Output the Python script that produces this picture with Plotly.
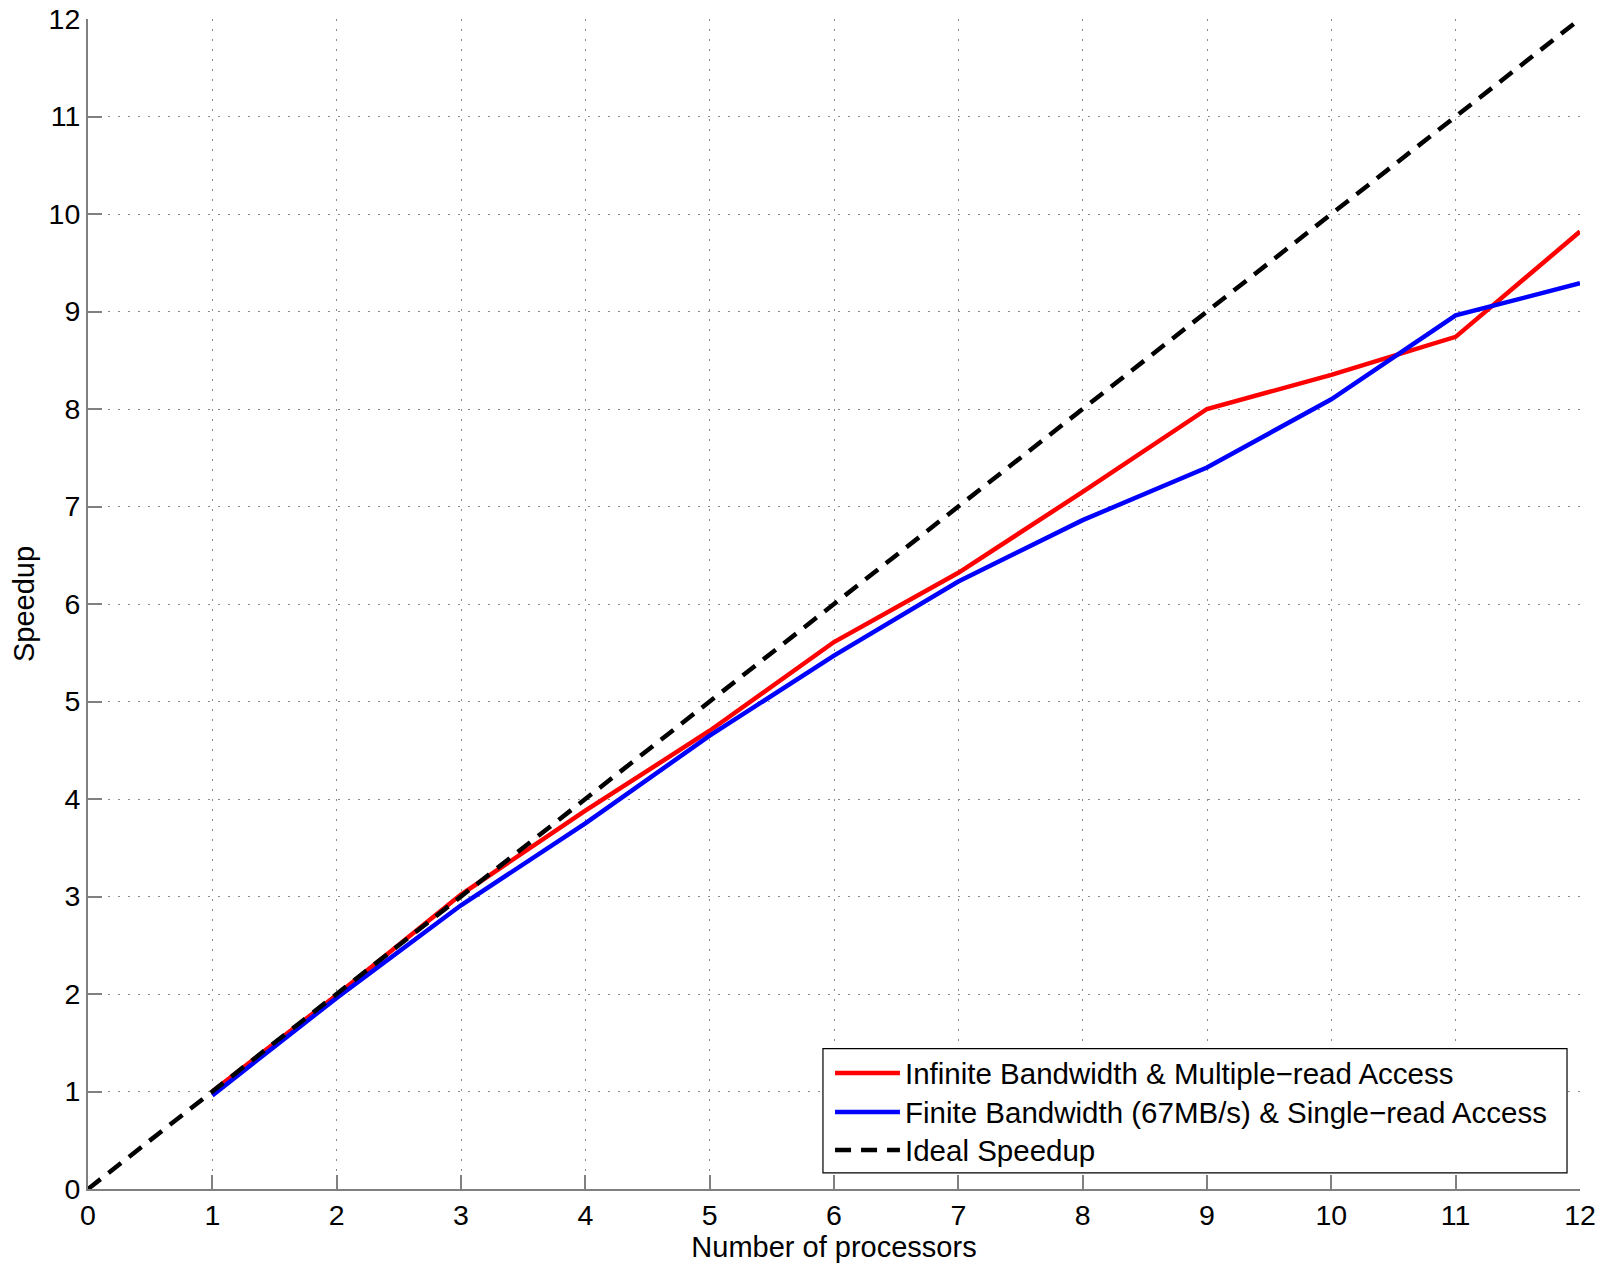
import plotly.graph_objects as go

processors = [1, 2, 3, 4, 5, 6, 7, 8, 9, 10, 11, 12]
infinite_bw = [1.00, 1.99, 3.02, 3.88, 4.70, 5.61, 6.32, 7.15, 8.00, 8.35, 8.74, 9.82]
finite_bw = [0.96, 1.96, 2.91, 3.75, 4.65, 5.47, 6.23, 6.86, 7.40, 8.10, 8.96, 9.29]
ideal_x = [0, 12]
ideal_y = [0, 12]
ticks = list(range(0, 13))
names = ["Infinite Bandwidth & Multiple\u2212read Access",
         "Finite Bandwidth (67MB/s) & Single\u2212read Access",
         "Ideal Speedup"]
colors = ["#ff0000", "#0000ff", "#000000"]
dashes = ["solid", "solid", "16px,10px"]

FONT = "Liberation Sans, Arial, Helvetica, sans-serif"

fig = go.Figure()
fig.add_trace(go.Scatter(x=processors, y=infinite_bw, mode="lines", name=names[0],
                         line=dict(color=colors[0], width=4.5), showlegend=False))
fig.add_trace(go.Scatter(x=processors, y=finite_bw, mode="lines", name=names[1],
                         line=dict(color=colors[1], width=4.5), showlegend=False))
fig.add_trace(go.Scatter(x=ideal_x, y=ideal_y, mode="lines", name=names[2],
                         line=dict(color=colors[2], width=4.5, dash=dashes[2]), showlegend=False))

axis_common = dict(
    range=[0, 12], tickmode="array", tickvals=ticks, ticktext=[str(t) for t in ticks],
    showline=True, linecolor="#808080", linewidth=2,
    ticks="inside", ticklen=14, tickcolor="#808080", tickwidth=1.5,
    showgrid=True, gridcolor="#8a8a8a", gridwidth=1, griddash="2px,8px",
    zeroline=False, tickfont=dict(family=FONT, size=28.5, color="black"),
    ticklabeloverflow="allow",
    automargin=False,
)
fig.update_xaxes(**axis_common,
                 title=dict(text="Number of processors", font=dict(family=FONT, size=29, color="black"), standoff=0))
fig.update_yaxes(**axis_common,
                 title=dict(text="Speedup", font=dict(family=FONT, size=29, color="black"), standoff=12))

# Legend box (drawn manually to match MATLAB style)
lx0, lx1, ly0, ly1 = 0.4926, 0.9913, 0.0137, 0.1200
fig.add_shape(type="rect", xref="paper", yref="paper", x0=lx0, x1=lx1, y0=ly0, y1=ly1,
              line=dict(color="black", width=1.2), fillcolor="white", layer="above")
rows = [0.0991, 0.0658, 0.0333]
for name, col, dsh, ry in zip(names, colors, dashes, rows):
    fig.add_shape(type="line", xref="paper", yref="paper", x0=0.5007, x1=0.5442, y0=ry, y1=ry,
                  line=dict(color=col, width=4.5, dash=dsh), layer="above")
    fig.add_annotation(xref="paper", yref="paper", x=0.5463, y=ry, text=name, showarrow=False,
                       xanchor="left", yanchor="middle",
                       font=dict(family=FONT, size=29.5, color="black"))

fig.update_layout(
    width=1614, height=1269,
    margin=dict(l=80, r=42, t=10.5, b=88, pad=0),
    paper_bgcolor="white", plot_bgcolor="white",
    font=dict(family=FONT, size=29, color="black"),
)

fig.write_html("out.html")
